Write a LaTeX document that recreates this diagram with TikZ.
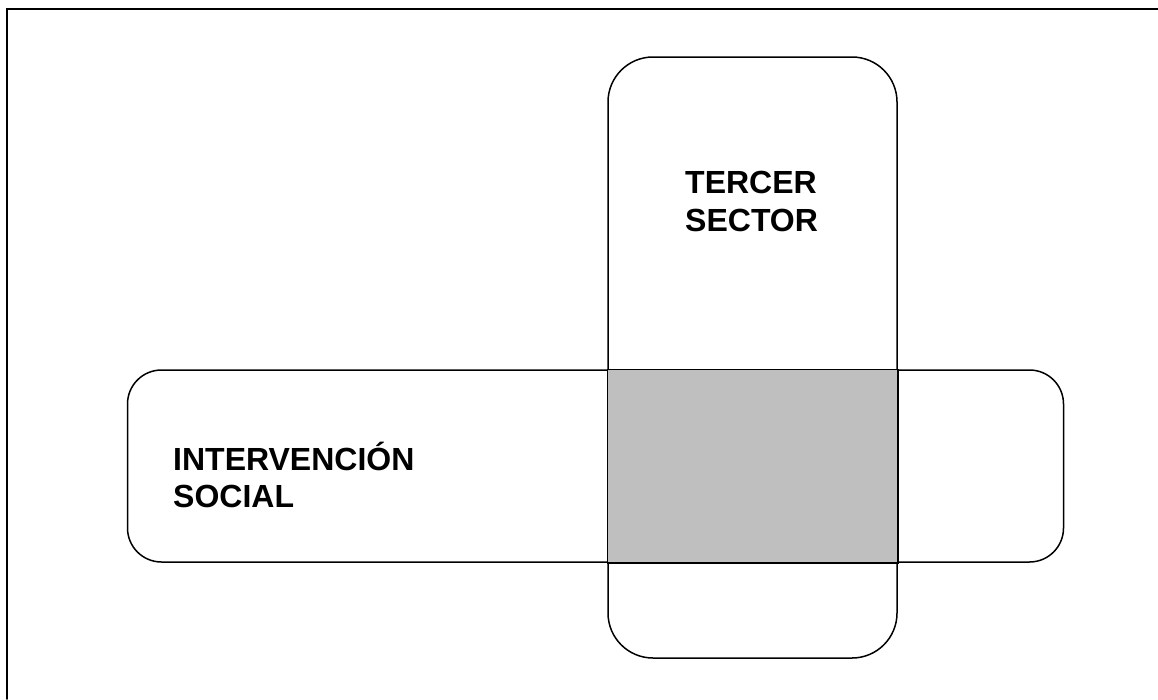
\documentclass[tikz,border=0pt]{standalone}
\usepackage{fontspec}
\setmainfont{Liberation Sans}
\usepackage{tikz}

\begin{document}
\begin{tikzpicture}
		[x=1pt,y=-1pt,line cap=round,
		%Styles
		frame line/.style={line width=1.6pt},
		field box/.style={draw,line width=1.5pt,rounded corners=#1,inner sep=0pt},
		overlap box/.style={draw,line width=1.5pt,fill=overlapcolor},
		field text/.style={anchor=base west,align=left,inner sep=0pt,
			font=\fontsize{32}{37.5}\selectfont\bfseries}
		]
		
		%Colors
		\colorlet{overlapcolor}{black!25}	%shared area
		
		\useasboundingbox (0,0) rectangle (1158,699);
		\draw[frame line] (7,699) -- (7,9) -- (1158,9);
		
		%The graphic
		\node[field box=45pt,minimum width=289pt,minimum height=601pt] (tercer) at (752.5,357.5) {};
		\node[field box=34pt,minimum width=936pt,minimum height=192pt] (social) at (595.5,466) {};
		
		\draw[overlap box] (tercer.west |- social.north) rectangle (tercer.east |- social.south);
		
		\node[field text] (tercer text) at (685,231) {TERCER\\SECTOR};
		\node[field text] (social text) at (173,507.5) {INTERVENCIÓN\\SOCIAL};
	\end{tikzpicture}
\end{document}
